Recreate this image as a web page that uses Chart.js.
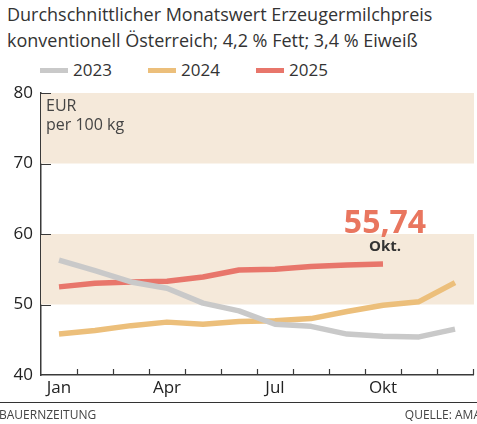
<!DOCTYPE html>
<html>
<head>
<meta charset="utf-8">
<script src="https://cdn.jsdelivr.net/npm/chart.js@4"></script>
<style>
  html, body { margin: 0; padding: 0; background: #fff; }
  body { width: 477px; height: 424px; position: relative; overflow: hidden; font-family: "Open Sans", sans-serif; color: #333; }
  #title { position: absolute; left: 7px; top: 1px; font-size: 18px; line-height: 26px; color: #333; white-space: nowrap; }
  #legend { position: absolute; left: 40px; top: 59px; font-size: 17px; line-height: 22px; color: #333; white-space: nowrap; }
  #legend span.item { position: absolute; top: 0; }
  #legend i { display: inline-block; width: 28px; height: 5px; vertical-align: middle; margin-right: 5px; position: relative; top: -1px; }
  #footer { position: absolute; left: 0; top: 402px; width: 477px; border-top: 1.5px solid #333; font-size: 12px; color: #444; }
  #footer .l { position: absolute; left: -1px; top: 3px; }
  #footer .r { position: absolute; right: -4px; top: 3px; }
  #chart { position: absolute; left: 0; top: 0; }
</style>
</head>
<body>
<div id="title">Durchschnittlicher Monatswert Erzeugermilchpreis<br>konventionell Österreich; 4,2 % Fett; 3,4 % Eiweiß</div>
<div id="legend"></div>
<canvas id="chart" width="477" height="424"></canvas>
<div id="footer"><span class="l">BAUERNZEITUNG</span><span class="r">QUELLE: AMA</span></div>
<script>
// Monate und sichtbare Achsenbeschriftungen
const months = ['Jan', 'Feb', 'Mär', 'Apr', 'Mai', 'Jun', 'Jul', 'Aug', 'Sep', 'Okt', 'Nov', 'Dez'];
const shownMonths = ['Jan', 'Apr', 'Jul', 'Okt'];
const yTicks = [40, 50, 60, 70, 80];

// Erzeugermilchpreis in EUR je 100 kg
const price2023 = [56.3, 54.8, 53.2, 52.3, 50.2, 49.1, 47.2, 46.9, 45.8, 45.5, 45.4, 46.5];
const price2024 = [45.8, 46.3, 47.0, 47.5, 47.2, 47.6, 47.7, 48.0, 49.0, 49.9, 50.4, 53.1];
const price2025 = [52.5, 53.0, 53.2, 53.3, 53.9, 54.9, 55.0, 55.4, 55.6, 55.74];

// hinterlegte Wertebereiche
const bands = [[70, 80], [50, 60]];

const series = [
  { label: '2023', data: price2023, color: '#c9c9c9' },
  { label: '2024', data: price2024, color: '#ecbf7b' },
  { label: '2025', data: price2025, color: '#e8766b' }
];

// Legende als HTML
const legendEl = document.getElementById('legend');
const legendX = [0, 108, 216];
series.forEach((s, i) => {
  const item = document.createElement('span');
  item.className = 'item';
  item.style.left = legendX[i] + 'px';
  item.innerHTML = '<i style="background:' + s.color + '"></i>' + s.label;
  legendEl.appendChild(item);
});

const FONT = '"Open Sans", sans-serif';
const AXIS = '#3a3a3a';

// Hintergrundbänder
const bandPlugin = {
  id: 'bands',
  beforeDatasetsDraw(chart) {
    const { ctx, chartArea, scales } = chart;
    ctx.save();
    ctx.fillStyle = '#f5e9da';
    bands.forEach(([lo, hi]) => {
      const top = scales.y.getPixelForValue(hi);
      const bottom = scales.y.getPixelForValue(lo);
      ctx.fillRect(chartArea.left, top, chartArea.right - chartArea.left + 1, bottom - top);
    });
    ctx.restore();
  }
};

// Striche nach innen, Einheit und Wertmarke
const decorPlugin = {
  id: 'decor',
  afterDatasetsDraw(chart) {
    const { ctx, chartArea, scales } = chart;
    const x = scales.x, y = scales.y;
    ctx.save();
    ctx.strokeStyle = AXIS;
    ctx.lineWidth = 1.2;
    ctx.beginPath();
    for (let i = 1; i <= months.length; i++) {
      const px = Math.round(x.getPixelForValue(i - 0.5)) + 0.5;
      ctx.moveTo(px, chartArea.bottom);
      ctx.lineTo(px, chartArea.bottom - 6);
    }
    yTicks.slice(1).forEach(v => {
      const py = Math.round(y.getPixelForValue(v)) + 0.5;
      ctx.moveTo(chartArea.left, py);
      ctx.lineTo(chartArea.left + 10, py);
    });
    ctx.stroke();

    // Einheit
    ctx.fillStyle = '#444';
    ctx.font = '16px ' + FONT;
    ctx.textAlign = 'left';
    ctx.textBaseline = 'alphabetic';
    ctx.fillText('EUR', chartArea.left + 5, chartArea.top + 18);
    ctx.fillText('per 100 kg', chartArea.left + 5, chartArea.top + 37);

    // letzter Wert 2025
    const last = price2025.length - 1;
    const lx = x.getPixelForValue(last) + 2;
    const ly = y.getPixelForValue(price2025[last]);
    ctx.textAlign = 'center';
    ctx.fillStyle = '#e9765f';
    ctx.font = 'bold 32px ' + FONT;
    ctx.fillText(price2025[last].toFixed(2).replace('.', ','), lx, ly - 31);
    ctx.fillStyle = '#333';
    ctx.font = 'bold 15px ' + FONT;
    ctx.fillText(months[last] + '.', lx, ly - 13);
    ctx.restore();
  }
};

new Chart(document.getElementById('chart'), {
  type: 'line',
  data: {
    labels: months,
    datasets: series.map(s => ({
      label: s.label,
      data: s.data,
      borderColor: s.color,
      borderWidth: 5.5,
      borderJoinStyle: 'round',
      pointRadius: 0,
      tension: 0,
      fill: false
    }))
  },
  options: {
    responsive: false,
    animation: false,
    devicePixelRatio: 1,
    layout: { padding: { top: 93, right: 4, left: 0, bottom: 24 } },
    plugins: {
      legend: { display: false },
      tooltip: { enabled: false }
    },
    scales: {
      x: {
        offset: true,
        grid: { display: false, drawTicks: false },
        border: { display: true, color: AXIS, width: 1.5 },
        afterFit(scale) { scale.height = 25; },
        ticks: {
          autoSkip: false,
          maxRotation: 0,
          padding: 3,
          color: '#222',
          font: { family: FONT, size: 17 },
          callback(value) {
            const m = months[value];
            return shownMonths.includes(m) ? m : '';
          }
        }
      },
      y: {
        min: 40,
        max: 80,
        grid: { display: false, drawTicks: false },
        border: { display: true, color: AXIS, width: 1.5 },
        afterFit(scale) { scale.width = 41; },
        afterBuildTicks(scale) { scale.ticks = yTicks.map(v => ({ value: v })); },
        ticks: {
          padding: 8,
          color: '#222',
          font: { family: FONT, size: 17 }
        }
      }
    }
  },
  plugins: [bandPlugin, decorPlugin]
});
</script>
</body>
</html>
